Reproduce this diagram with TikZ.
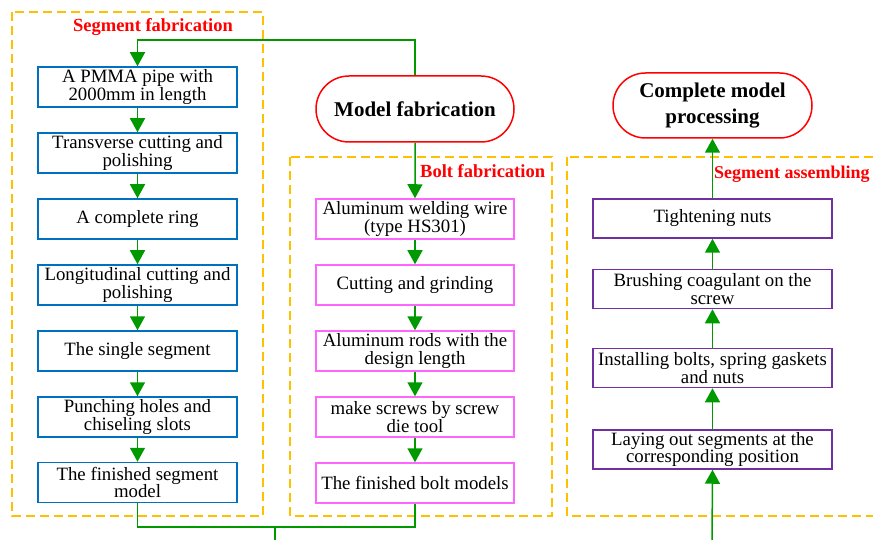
\documentclass[tikz,border=0pt]{standalone}
\usepackage{fontspec}
\setmainfont{Liberation Serif}
\usetikzlibrary{arrows.meta,shapes.misc}
\definecolor{boxblue}{RGB}{0,112,192}
\definecolor{boxpink}{RGB}{255,102,255}
\definecolor{boxpurple}{RGB}{112,48,160}
\definecolor{flowgreen}{RGB}{0,153,0}
\definecolor{dashorange}{RGB}{255,192,0}
\definecolor{titlered}{RGB}{255,0,0}
\tikzset{
  basebox/.style={draw, line width=1.5pt, fill=white, align=center, inner sep=0pt,
    font=\fontsize{18.8}{17.5}\selectfont},
  segbox/.style={basebox, draw=boxblue, minimum width=199pt, minimum height=40pt},
  boltbox/.style={basebox, draw=boxpink, minimum width=198pt, minimum height=40pt},
  asmbox/.style={basebox, draw=boxpurple, minimum width=239pt, minimum height=39pt},
  rounded/.style={draw=titlered, line width=1.5pt, fill=white, rounded rectangle, align=center, inner sep=0pt,
    font=\fontsize{21}{25.5}\selectfont\bfseries},
  grouplabel/.style={text=titlered, inner sep=0pt, font=\fontsize{18.5}{20}\selectfont\bfseries},
  groupframe/.style={draw=dashorange, line width=1.5pt, dash pattern=on 9pt off 5pt},
  flow/.style={draw=flowgreen, line width=1.5pt},
  flowarrow/.style={flow, -{Triangle[width=15pt,length=14pt]}},
}
\begin{document}
\begin{tikzpicture}[x=1pt,y=-1pt]
\useasboundingbox (0,0) rectangle (873,540);
\clip (0,0) rectangle (873,540);

% group frames
\draw[groupframe] (12,12) rectangle (263,516);
\draw[groupframe] (290,157) rectangle (552,516);
\draw[groupframe] (567,157) rectangle (900,516);

% group labels
\node[grouplabel] (lseg) at (153,27) {Segment fabrication};
\node[grouplabel, anchor=west] (lbolt) at (420,171) {Bolt fabrication};
\node[grouplabel, anchor=west, font=\fontsize{18}{20}\selectfont\bfseries] (lasm) at (714,174) {Segment assembling};

% segment fabrication column
\node[segbox] (s1) at (137.5,87) {A PMMA pipe with\\2000mm in length};
\node[segbox] (s2) at (137.5,153) {Transverse cutting and\\polishing};
\node[segbox] (s3) at (137.5,219) {A complete ring};
\node[segbox] (s4) at (137.5,285) {Longitudinal cutting and\\polishing};
\node[segbox] (s5) at (137.5,351) {The single segment};
\node[segbox] (s6) at (137.5,417) {Punching holes and\\chiseling slots};
\node[segbox] (s7) at (137.5,482.5) {The finished segment\\model};

% model fabrication
\node[rounded, minimum width=198pt, minimum height=66pt] (mf) at (415,109) {Model fabrication};

% bolt fabrication column
\node[boltbox] (b1) at (415,219) {Aluminum welding wire\\(type HS301)};
\node[boltbox] (b2) at (415,285) {Cutting and grinding};
\node[boltbox] (b3) at (415,351) {Aluminum rods with the\\design length};
\node[boltbox] (b4) at (415,417) {make screws by screw\\die tool};
\node[boltbox] (b5) at (415,483) {The finished bolt models};

% complete model processing
\node[rounded, minimum width=199pt, minimum height=65pt] (cm) at (712.5,105.5) {Complete model\\processing};

% assembling column
\node[asmbox] (a1) at (712.5,218.5) {Tightening nuts};
\node[asmbox] (a2) at (712.5,289) {Brushing coagulant on the\\screw};
\node[asmbox] (a3) at (712.5,368) {Installing bolts, spring gaskets\\and nuts};
\node[asmbox] (a4) at (712.5,449.5) {Laying out segments at the\\corresponding position};

% coordinates for connectors
\coordinate (topR) at (415,40);
\coordinate (topL) at (137.5,40);
\coordinate (botL) at (137.5,527);
\coordinate (botR) at (415,527);
\coordinate (botJ) at (275,527);
\coordinate (botOut) at (275,545);
\coordinate (asmIn) at (712,545);

% connectors
\draw[flowarrow] (mf.north) -- (topR) -- (topL) -- (s1.north);
\draw[flowarrow] (s1) -- (s2);
\draw[flowarrow] (s2) -- (s3);
\draw[flowarrow] (s3) -- (s4);
\draw[flowarrow] (s4) -- (s5);
\draw[flowarrow] (s5) -- (s6);
\draw[flowarrow] (s6) -- (s7);

\draw[flowarrow] (mf) -- (b1);
\draw[flowarrow] (b1) -- (b2);
\draw[flowarrow] (b2) -- (b3);
\draw[flowarrow] (b3) -- (b4);
\draw[flowarrow] (b4) -- (b5);

\draw[flow] (s7.south) -- (botL) -- (botR) -- (b5.south);
\draw[flow] (botJ) -- (botOut);

\draw[flowarrow] (asmIn) -- (a4.south);
\draw[flowarrow] (a4) -- (a3);
\draw[flowarrow] (a3) -- (a2);
\draw[flowarrow] (a2) -- (a1);
\draw[flowarrow] (a1) -- (cm);
\end{tikzpicture}
\end{document}
